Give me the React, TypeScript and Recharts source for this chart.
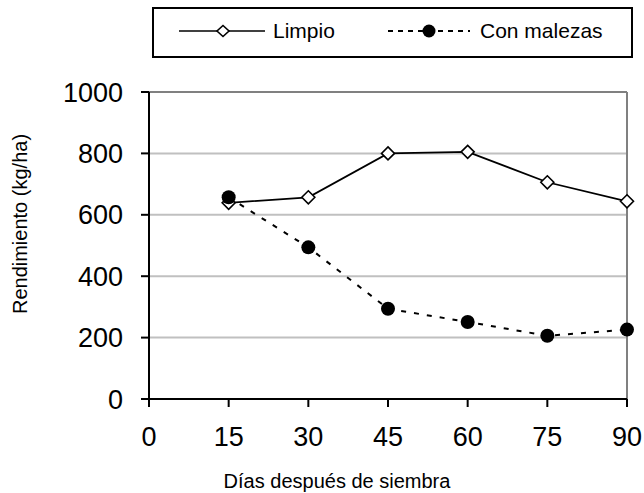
import React from 'react';
import { LineChart, Line, XAxis, YAxis, CartesianGrid, ReferenceLine, Legend, Label } from 'recharts';

const days = [15, 30, 45, 60, 75, 90];
const limpio = [639, 657, 800, 805, 706, 644];
const conMalezas = [657, 494, 294, 251, 206, 226];
const xTicks = [0, 15, 30, 45, 60, 75, 90];
const yTicks = [0, 200, 400, 600, 800, 1000];

const FONT = '"Liberation Sans", Arial, sans-serif';

const data = days.map((d, i) => ({ day: d, limpio: limpio[i], malezas: conMalezas[i] }));

const Diamond = (props: any) => {
  const { cx, cy, index } = props;
  if (cx == null || cy == null) return <g key={index} />;
  const s = 6.5;
  return (
    <path
      key={index}
      d={`M${cx},${cy - s} L${cx + s},${cy} L${cx},${cy + s} L${cx - s},${cy} Z`}
      fill="#fff"
      stroke="#000"
      strokeWidth={1.6}
    />
  );
};

const LegendBox = () => (
  <svg width={481} height={51} style={{ display: 'block' }}>
    <rect x={1} y={1} width={479} height={49} fill="#fff" stroke="#000" strokeWidth={2} />
    <line x1={27} y1={24} x2={113} y2={24} stroke="#000" strokeWidth={1.6} />
    <path d="M71,18.5 L77,24 L71,29.5 L65,24 Z" fill="#fff" stroke="#000" strokeWidth={1.6} />
    <text x={121} y={31} fontSize={21} fontFamily={FONT} fill="#000">Limpio</text>
    <line x1={236} y1={24} x2={318} y2={24} stroke="#000" strokeWidth={1.8} strokeDasharray="5 5" />
    <circle cx={277} cy={24} r={6.5} fill="#000" />
    <text x={328} y={31} fontSize={21} fontFamily={FONT} fill="#000">Con malezas</text>
  </svg>
);

export default function App() {
  return (
    <div style={{ position: 'absolute', left: 0, top: 0, width: 644, height: 493, background: '#fff' }}>
      <LineChart width={644} height={493} data={data} margin={{ top: 92, right: 17, bottom: 0, left: 0 }}>
        <CartesianGrid vertical={false} stroke="#c0c0c0" strokeWidth={2} />
        <ReferenceLine y={1000} stroke="#808080" strokeWidth={2} />
        <ReferenceLine x={90} stroke="#808080" strokeWidth={2} />
        <XAxis
          dataKey="day"
          type="number"
          domain={[0, 90]}
          ticks={xTicks}
          height={94}
          tickSize={8}
          tickMargin={20}
          axisLine={{ stroke: '#000', strokeWidth: 2 }}
          tickLine={{ stroke: '#000', strokeWidth: 2 }}
          tick={{ fill: '#000', fontSize: 27, fontFamily: FONT }}
          interval={0}
        >
          <Label
            content={() => (
              <text x={337} y={488} textAnchor="middle" fontSize={20} fontFamily={FONT} fill="#000">
                Días después de siembra
              </text>
            )}
          />
        </XAxis>
        <YAxis
          type="number"
          domain={[0, 1000]}
          ticks={yTicks}
          width={149}
          tickSize={8}
          tickMargin={18}
          axisLine={{ stroke: '#000', strokeWidth: 2 }}
          tickLine={{ stroke: '#000', strokeWidth: 2 }}
          tick={{ fill: '#000', fontSize: 27, fontFamily: FONT }}
          interval={0}
        >
          <Label
            content={() => (
              <text
                x={27}
                y={224}
                textAnchor="middle"
                transform="rotate(-90, 27, 224)"
                fontSize={20}
                fontFamily={FONT}
                fill="#000"
              >
                Rendimiento (kg/ha)
              </text>
            )}
          />
        </YAxis>
        <Legend
          layout="horizontal"
          verticalAlign="middle"
          align="center"
          content={() => <LegendBox />}
          wrapperStyle={{ position: 'absolute', left: 152, top: 7, width: 481, height: 51 }}
        />
        <Line
          dataKey="limpio"
          name="Limpio"
          stroke="#000"
          strokeWidth={1.8}
          dot={Diamond}
          activeDot={false}
          isAnimationActive={false}
        />
        <Line
          dataKey="malezas"
          name="Con malezas"
          stroke="#000"
          strokeWidth={2}
          strokeDasharray="5 8"
          dot={{ r: 7, fill: '#000', stroke: '#000', strokeWidth: 0 }}
          activeDot={false}
          isAnimationActive={false}
        />
      </LineChart>
    </div>
  );
}
